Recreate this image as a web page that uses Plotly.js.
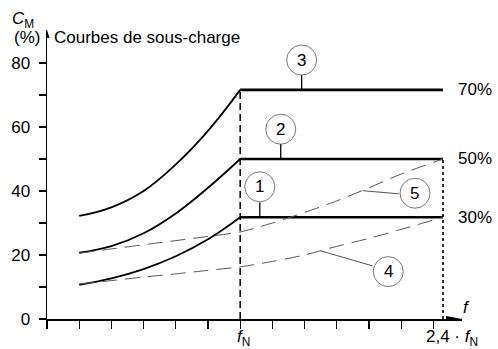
<!DOCTYPE html>
<html>
<head>
<meta charset="utf-8">
<script src="https://cdn.plot.ly/plotly-3.0.1.min.js"></script>
<style>
html,body{margin:0;padding:0;background:#fff;}
#chart{width:498px;height:349px;}
</style>
</head>
<body>
<div id="chart"></div>
<script>
// ---- data ----
const xRise = [1, 2, 3, 4, 5, 6];           // frequency, in tick units (fN = 6)
const curve1 = [10.7, 12.7, 15.6, 19.6, 24.9, 31.8];
const curve2 = [20.7, 22.8, 26.8, 33.0, 41.0, 50.0];
const curve3 = [32.2, 34.9, 40.0, 48.3, 58.8, 71.6];
const xFN = 6;
const xEnd = 12.3;                           // 2,4 · fN
const levels = [31.8, 50.0, 71.6];           // 30 %, 50 %, 70 %
const levelLabels = ['30%', '50%', '70%'];
const xDash = [1, 2, 3, 4, 5, 6, 7, 8, 9, 10, 11, 12.3];
const dash5 = [20.6, 21.9, 23.2, 24.5, 25.8, 27.2, 30.0, 33.3, 36.9, 41.0, 45.3, 50.0];
const dash4 = [10.9, 12.0, 13.1, 14.1, 15.2, 16.3, 18.0, 20.0, 22.7, 25.2, 28.0, 31.8];
const yTicks = [0, 20, 40, 60, 80];
const yTickText = ['0', '20', '40', '60', '80'];
const xTicks = [0, 1, 2, 3, 4, 5, 6, 7, 8, 9, 10, 11, 12];
const fNLabel = '<i>f</i><sub>N</sub>';
const endLabel = '2,4 · <i>f</i><sub>N</sub>';
// callouts: [label, x, y, leader x0, y0, x1, y1, leader colour]
const callouts = [
  ['1', 6.61, 41.3, 6.61, 36.4, 6.61, 31.8, '#000'],
  ['2', 7.26, 59.3, 7.26, 54.6, 7.26, 50.0, '#000'],
  ['3', 7.91, 80.9, 7.91, 76.2, 7.91, 71.6, '#000'],
  ['4', 10.60, 14.8, 10.11, 16.6, 8.50, 21.3, '#555'],
  ['5', 11.43, 39.3, 10.93, 39.1, 9.81, 40.1, '#555']
];

const FONT = 'Liberation Sans, Arial, sans-serif';
const FS = 17;
const traces = [];
[curve1, curve2, curve3].forEach(c => {
  traces.push({x: xRise, y: c, type: 'scatter', mode: 'lines',
    line: {color: '#000', width: 1.8, shape: 'spline', smoothing: 1.2}, hoverinfo: 'skip'});
});
levels.forEach(v => {
  traces.push({x: [xFN, xEnd], y: [v, v], type: 'scatter', mode: 'lines',
    line: {color: '#000', width: 2.6}, hoverinfo: 'skip'});
});
[dash5, dash4].forEach(d => {
  traces.push({x: xDash, y: d, type: 'scatter', mode: 'lines',
    line: {color: '#555', width: 1, dash: '15px,8px', shape: 'spline', smoothing: 0.8}, hoverinfo: 'skip'});
});
// vertical marker lines
traces.push({x: [xFN, xFN], y: [0, levels[2]], type: 'scatter', mode: 'lines',
  line: {color: '#000', width: 1.5, dash: '7px,4px'}, hoverinfo: 'skip'});
traces.push({x: [xEnd, xEnd], y: [0, levels[1]], type: 'scatter', mode: 'lines',
  line: {color: '#000', width: 1.6, dash: 'dot'}, hoverinfo: 'skip'});

const shapes = [];
const annotations = [];
callouts.forEach(c => {
  shapes.push({type: 'circle', xref: 'x', yref: 'y', xsizemode: 'pixel', ysizemode: 'pixel',
    xanchor: c[1], yanchor: c[2], x0: -15, x1: 15, y0: -15, y1: 15,
    line: {color: '#777', width: 1}});
  shapes.push({type: 'line', xref: 'x', yref: 'y', x0: c[3], y0: c[4], x1: c[5], y1: c[6],
    line: {color: c[7], width: c[7] === '#000' ? 1.3 : 1}});
  annotations.push({text: c[0], x: c[1], y: c[2], xref: 'x', yref: 'y', showarrow: false,
    font: {size: FS, color: '#000', family: FONT}, xanchor: 'center', yanchor: 'middle'});
});
// axis arrowheads
shapes.push({type: 'path', xref: 'paper', yref: 'y', xsizemode: 'pixel', ysizemode: 'pixel',
  xanchor: 1, yanchor: 0, path: 'M 0 0 L -16 3 L -16 -3 Z', fillcolor: '#000', line: {width: 0}});
shapes.push({type: 'path', xref: 'x', yref: 'paper', xsizemode: 'pixel', ysizemode: 'pixel',
  xanchor: 0, yanchor: 1, path: 'M 0 0 L -2.5 -8 L 2.5 -8 Z', fillcolor: '#000', line: {width: 0}});

levels.forEach((v, i) => {
  annotations.push({text: levelLabels[i], x: 1.0, y: v, xref: 'paper', yref: 'y', xshift: -6,
    showarrow: false, xanchor: 'left', yanchor: 'middle', font: {size: FS, color: '#000', family: FONT}});
});
annotations.push({text: '<i>C</i><sub>M</sub>', x: -0.089, y: 1.035, xref: 'paper', yref: 'paper',
  showarrow: false, xanchor: 'left', yanchor: 'middle', font: {size: FS, color: '#000', family: FONT}});
annotations.push({text: '(%)', x: -0.085, y: 0.975, xref: 'paper', yref: 'paper',
  showarrow: false, xanchor: 'left', yanchor: 'middle', font: {size: FS, color: '#000', family: FONT}});
annotations.push({text: 'Courbes de sous-charge', x: 0.012, y: 0.975, xref: 'paper', yref: 'paper',
  showarrow: false, xanchor: 'left', yanchor: 'middle', font: {size: FS, color: '#000', family: FONT}});
annotations.push({text: '<i>f</i>', x: 1.012, y: 0.04, xref: 'paper', yref: 'paper',
  showarrow: false, xanchor: 'center', yanchor: 'middle', font: {size: FS, color: '#000', family: FONT}});
annotations.push({text: fNLabel, x: xFN, y: -0.066, xref: 'x', yref: 'paper', xshift: 3,
  showarrow: false, xanchor: 'center', yanchor: 'middle', font: {size: FS, color: '#000', family: FONT}});
annotations.push({text: endLabel, x: 0.976, y: -0.066, xref: 'paper', yref: 'paper',
  showarrow: false, xanchor: 'center', yanchor: 'middle', font: {size: FS, color: '#000', family: FONT}});

const layout = {
  width: 498, height: 349,
  margin: {l: 47, r: 36, t: 30, b: 30},
  paper_bgcolor: '#fff', plot_bgcolor: '#fff',
  showlegend: false,
  font: {family: FONT, size: FS, color: '#000'},
  xaxis: {range: [0, 12.89], showgrid: false, zeroline: false, showline: true, linecolor: '#000', linewidth: 1.5,
    ticks: 'outside', ticklen: 8, tickwidth: 1.3, tickcolor: '#000', tickvals: xTicks, showticklabels: false,
    fixedrange: true},
  yaxis: {range: [0, 90.3], showgrid: false, zeroline: false, showline: true, linecolor: '#000', linewidth: 1.5,
    ticks: 'outside', ticklen: 7, tickwidth: 1.3, tickcolor: '#000', tickvals: yTicks, ticktext: yTickText,
    ticklabelstandoff: 5,
    minor: {tickvals: [10, 30, 50, 70], ticks: 'outside', ticklen: 7, tickwidth: 1.3, tickcolor: '#000', showgrid: false},
    tickfont: {size: FS, family: FONT}, fixedrange: true},
  shapes: shapes,
  annotations: annotations
};
Plotly.newPlot('chart', traces, layout, {staticPlot: true, displayModeBar: false});
</script>
</body>
</html>
